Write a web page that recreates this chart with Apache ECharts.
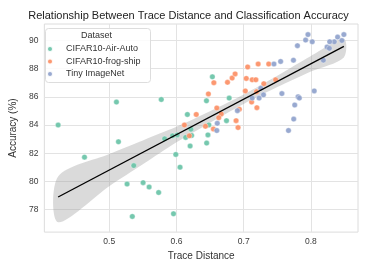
<!DOCTYPE html>
<html>
<head>
<meta charset="utf-8">
<script src="https://cdn.jsdelivr.net/npm/echarts@6/dist/echarts.min.js"></script>
<style>
html,body{margin:0;padding:0;background:#fff;}
#c{width:377px;height:266px;}
</style>
</head>
<body>
<div id="c"></div>
<script>
// ---- data ----
const seriesNames = ['CIFAR10-Air-Auto', 'CIFAR10-frog-ship', 'Tiny ImageNet'];

const airAuto = [
  [0.5107,85.63],[0.5774,85.81],[0.4240,84.00],[0.6534,87.42],[0.6446,85.72],
  [0.6162,84.75],[0.6215,83.70],[0.6784,85.91],[0.6744,84.31],[0.6482,84.01],
  [0.6468,83.30],[0.6449,82.72],[0.5137,82.81],[0.4632,81.72],[0.5824,83.02],
  [0.5941,83.23],[0.6012,83.30],[0.6137,83.12],[0.6225,83.26],[0.6203,82.51],
  [0.5990,81.91],[0.5365,81.12],[0.6053,81.01],[0.5265,79.81],[0.5504,79.91],
  [0.5593,79.60],[0.5735,79.21],[0.5343,77.51],[0.5956,77.70]
];

const frogShip = [
  [0.6118,84.00],[0.6191,83.23],[0.6294,84.75],[0.6431,83.91],[0.6475,86.21],
  [0.6556,87.00],[0.6759,87.03],[0.6828,87.33],[0.6872,87.63],[0.7059,88.12],
  [0.7215,88.33],[0.7372,88.33],[0.7038,87.31],[0.7126,87.21],[0.7181,87.21],
  [0.7475,87.21],[0.7299,86.93],[0.7191,86.37],[0.7024,86.42],[0.7118,85.63],
  [0.7196,85.23],[0.6600,85.21],[0.6935,85.12],[0.6666,84.79],[0.6629,84.52],
  [0.6887,84.31],[0.6916,83.82],[0.6549,83.72]
];

const tinyImageNet = [
  [0.7956,90.42],[0.7921,90.03],[0.8019,89.91],[0.7799,89.63],[0.8397,90.24],
  [0.8490,90.42],[0.8460,90.00],[0.8347,89.91],[0.8279,89.91],[0.8240,89.54],
  [0.8274,89.44],[0.8185,88.60],[0.7740,88.60],[0.7549,88.51],[0.7450,88.33],
  [0.7254,86.61],[0.7294,86.14],[0.7568,86.23],[0.8049,86.42],[0.7229,85.91],
  [0.7126,85.91],[0.7809,86.00],[0.7828,85.91],[0.7759,85.42],[0.6906,85.02],
  [0.7744,84.42],[0.6607,84.12],[0.6600,83.61],[0.7666,83.61]
];

// regression line end points and confidence band
const fitLine = [[0.424,78.89],[0.849,89.58]];
const bandX     = [0.424, 0.5,   0.55,  0.6,   0.65,  0.7,   0.75,  0.8,   0.849];
const bandLower = [77.10, 79.65, 81.21, 82.77, 84.17, 85.50, 86.69, 87.80, 88.80];
const bandUpper = [80.35, 81.95, 82.91, 83.87, 84.97, 86.16, 87.49, 88.90, 90.10];

const xTicks = [0.5, 0.6, 0.7, 0.8];
const yTicks = [78, 80, 82, 84, 86, 88, 90];

// ---- chart ----
const colors = ['#66c2a5', '#fc8d62', '#8da0cb'];
const chart = echarts.init(document.getElementById('c'), null, {renderer: 'canvas'});

const bandPoly = bandX.map((x, i) => [x, bandLower[i], bandUpper[i]]);

function scatterSeries(name, data, color) {
  return {
    name: name, type: 'scatter', data: data, symbol: 'circle', symbolSize: 5.5,
    itemStyle: {color: color, opacity: 0.9, borderColor: '#fff', borderWidth: 0.4},
    z: 3
  };
}

const tickFont = {fontFamily: 'Liberation Sans, Arial, sans-serif', fontSize: 8.5, color: '#3a3a3a'};

chart.setOption({
  animation: false,
  backgroundColor: '#fff',
  color: colors,
  title: {
    text: 'Relationship Between Trace Distance and Classification Accuracy',
    left: 'center', top: 5,
    textStyle: {fontFamily: 'Liberation Sans, Arial, sans-serif', fontSize: 11, fontWeight: 'normal', color: '#222'}
  },
  grid: {left: 41, right: 19, top: 24, bottom: 30.5, show: true, borderColor: '#dcdcdc', borderWidth: 1, backgroundColor: 'transparent'},
  xAxis: {
    type: 'value', min: 0.4035, max: 0.870,
    axisLine: {show: false},
    axisTick: {show: false, customValues: xTicks},
    axisLabel: Object.assign({customValues: xTicks, margin: 5, formatter: v => v.toFixed(1)}, tickFont),
    splitLine: {show: true, lineStyle: {color: '#e3e3e3', width: 1}},
    name: 'Trace Distance', nameLocation: 'middle', nameGap: 15,
    nameTextStyle: {fontFamily: 'Liberation Sans, Arial, sans-serif', fontSize: 10, color: '#333'}
  },
  yAxis: {
    type: 'value', min: 76.4, max: 91.17,
    axisLine: {show: false},
    axisTick: {show: false, customValues: yTicks},
    axisLabel: Object.assign({customValues: yTicks, margin: 6}, tickFont),
    splitLine: {show: true, lineStyle: {color: '#e3e3e3', width: 1}},
    name: 'Accuracy (%)', nameLocation: 'middle', nameGap: 18.5, nameRotate: 90,
    nameTextStyle: {fontFamily: 'Liberation Sans, Arial, sans-serif', fontSize: 10, color: '#333'}
  },
  legend: {
    orient: 'vertical', left: 46, top: 43, padding: 0, z: 20,
    itemWidth: 22, itemHeight: 6, itemGap: 0.5,
    icon: 'circle',
    data: seriesNames,
    textStyle: {fontFamily: 'Liberation Sans, Arial, sans-serif', fontSize: 9, color: '#333', lineHeight: 12}
  },
  graphic: [
    {type: 'rect', left: 45, top: 28, z: 10,
     shape: {width: 105, height: 54, r: 3},
     style: {fill: 'rgba(255,255,255,0.85)', stroke: '#dddddd', lineWidth: 1}},
    {type: 'text', left: 81, top: 31, z: 11,
     style: {text: 'Dataset', fontFamily: 'Liberation Sans, Arial, sans-serif', fontSize: 9, fill: '#333'}}
  ],
  series: [
    {
      name: 'band', type: 'custom', data: bandPoly, z: 1, silent: true,
      renderItem: function (params, api) {
        if (params.dataIndex !== 0) return null;
        const up = [], lo = [];
        for (let i = 0; i < bandPoly.length; i++) {
          up.push(api.coord([bandPoly[i][0], bandPoly[i][2]]));
          lo.push(api.coord([bandPoly[i][0], bandPoly[i][1]]));
        }
        const pts = up.concat(lo.reverse());
        return {type: 'polygon', shape: {points: pts, smooth: 0.3}, style: {fill: 'rgba(150,150,150,0.35)'}};
      },
      encode: {x: 0, y: 1}
    },
    scatterSeries(seriesNames[0], airAuto, colors[0]),
    scatterSeries(seriesNames[1], frogShip, colors[1]),
    scatterSeries(seriesNames[2], tinyImageNet, colors[2]),
    {
      name: 'fit', type: 'line', data: fitLine, showSymbol: false, symbol: 'none',
      lineStyle: {color: '#000', width: 1.3}, z: 5, silent: true
    }
  ]
});
</script>
</body>
</html>
